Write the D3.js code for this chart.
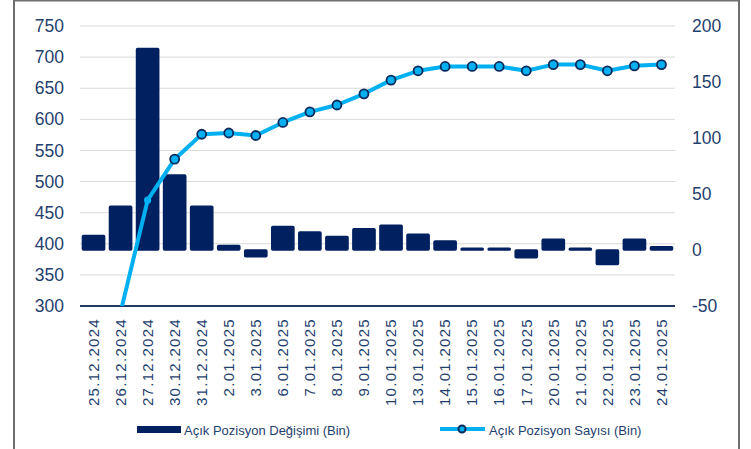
<!DOCTYPE html>
<html>
<head>
<meta charset="utf-8">
<script src="https://cdn.jsdelivr.net/npm/d3@7"></script>
<style>
  html, body { margin: 0; padding: 0; background: #fff; }
  svg { display: block; font-family: "Liberation Sans", Arial, sans-serif; }
</style>
</head>
<body>
<svg id="chart" width="751" height="449"></svg>
<script>
// Dates on the x axis
const dates = [
  '25.12.2024', '26.12.2024', '27.12.2024', '30.12.2024', '31.12.2024',
  '2.01.2025', '3.01.2025', '6.01.2025', '7.01.2025', '8.01.2025',
  '9.01.2025', '10.01.2025', '13.01.2025', '14.01.2025', '15.01.2025',
  '16.01.2025', '17.01.2025', '20.01.2025', '21.01.2025', '22.01.2025',
  '23.01.2025', '24.01.2025'
];

// Daily change (right axis, thousands)
const changeValues = [13, 39, 180, 67, 39, 4, -6, 21, 16, 12, 19, 22, 14, 8, 1.5, 1.5, -7, 9.5, 1.5, -13, 9.5, 3];

// Open position count (left axis, thousands)
const countValues = [251, 290, 470, 536, 576, 578, 574, 595, 612, 623, 641, 663, 678, 685, 685, 685, 678, 688, 688, 678, 686, 688];

const leftTicks = [300, 350, 400, 450, 500, 550, 600, 650, 700, 750];
const rightTicks = [-50, 0, 50, 100, 150, 200];

const seriesNames = ['Açık Pozisyon Değişimi (Bin)', 'Açık Pozisyon Sayısı (Bin)'];

// the first visible marker is drawn smaller in the original
const smallMarkerDate = '27.12.2024';

const navy = '#002060';
const cyan = '#00b0f0';
const textColor = '#1f3f6e';

const plot = { left: 80, right: 675, top: 26, bottom: 306 };

const svg = d3.select('#chart');

// outer frame
svg.append('rect')
  .attr('x', 14).attr('y', 0.5)
  .attr('width', 725).attr('height', 460)
  .attr('fill', '#fff')
  .attr('stroke', '#6f6f6f')
  .attr('stroke-width', 2);

const x = d3.scaleBand()
  .domain(dates)
  .range([plot.left, plot.right])
  .paddingInner(0.18)
  .paddingOuter(0.09);

const yLeft = d3.scaleLinear().domain([300, 750]).range([plot.bottom, plot.top]);
const yRight = d3.scaleLinear().domain([-50, 200]).range([plot.bottom, plot.top]);

const cx = d => x(d) + x.bandwidth() / 2;

// gridlines
svg.append('g')
  .selectAll('line')
  .data(leftTicks.slice(1))
  .enter()
  .append('line')
  .attr('x1', plot.left).attr('x2', plot.right)
  .attr('y1', d => yLeft(d)).attr('y2', d => yLeft(d))
  .attr('stroke', '#d9d9d9')
  .attr('stroke-width', 1);

// left axis
const leftAxis = svg.append('g')
  .attr('transform', 'translate(' + (plot.left - 16) + ',0)')
  .call(d3.axisLeft(yLeft).tickValues(leftTicks).tickSize(0).tickPadding(0).tickFormat(d => String(d)));
leftAxis.select('.domain').remove();
leftAxis.selectAll('text')
  .attr('fill', textColor)
  .style('font-size', '17.5px');

// right axis (plain hyphen for negatives, like the original)
const rightAxis = svg.append('g')
  .attr('transform', 'translate(' + (plot.right + 17) + ',0)')
  .call(d3.axisRight(yRight).tickValues(rightTicks).tickSize(0).tickPadding(0).tickFormat(d => String(d)));
rightAxis.select('.domain').remove();
rightAxis.selectAll('text')
  .attr('fill', textColor)
  .style('font-size', '17.5px');

// bars
svg.append('g')
  .selectAll('rect')
  .data(changeValues)
  .enter()
  .append('rect')
  .attr('x', (d, i) => x(dates[i]))
  .attr('width', x.bandwidth())
  .attr('y', d => yRight(Math.max(0, d)))
  .attr('height', d => Math.abs(yRight(d) - yRight(0)))
  .attr('fill', navy)
  .attr('stroke', navy)
  .attr('stroke-width', 1.5)
  .attr('rx', 1);

// bottom axis line
svg.append('line')
  .attr('x1', plot.left).attr('x2', plot.right)
  .attr('y1', plot.bottom).attr('y2', plot.bottom)
  .attr('stroke', '#1f3864')
  .attr('stroke-width', 2);

// x labels
svg.append('g')
  .selectAll('text')
  .data(dates)
  .enter()
  .append('text')
  .attr('transform', d => 'translate(' + cx(d) + ',318) rotate(-90)')
  .attr('text-anchor', 'end')
  .attr('dy', '0.35em')
  .attr('fill', textColor)
  .style('font-size', '15px')
  .style('letter-spacing', '1.3px')
  .text(d => d);

// line, clipped to the plot area
svg.append('clipPath')
  .attr('id', 'plot-clip')
  .append('rect')
  .attr('x', plot.left).attr('y', plot.top - 10)
  .attr('width', plot.right - plot.left).attr('height', plot.bottom - plot.top + 10);

const lineGroup = svg.append('g').attr('clip-path', 'url(#plot-clip)');

const points = dates.map((d, i) => ({ date: d, value: countValues[i] }));

const line = d3.line()
  .x(p => cx(p.date))
  .y(p => yLeft(p.value));

lineGroup.append('path')
  .datum(points)
  .attr('d', line)
  .attr('fill', 'none')
  .attr('stroke', cyan)
  .attr('stroke-width', 4)
  .attr('stroke-linejoin', 'round');

lineGroup.selectAll('circle')
  .data(points.filter(p => p.value >= 300))
  .enter()
  .append('circle')
  .attr('cx', p => cx(p.date))
  .attr('cy', p => yLeft(p.value))
  .attr('r', p => p.date === smallMarkerDate ? 3.6 : 4.5)
  .attr('fill', cyan)
  .attr('stroke', p => p.date === smallMarkerDate ? 'none' : '#0b2a5c')
  .attr('stroke-width', 1.8);

// legend
const legend = svg.append('g');

legend.append('rect')
  .attr('x', 137).attr('y', 426)
  .attr('width', 44).attr('height', 7)
  .attr('fill', navy);

legend.append('text')
  .attr('x', 184).attr('y', 430)
  .attr('dy', '0.35em')
  .attr('fill', textColor)
  .style('font-size', '13px')
  .text(seriesNames[0]);

legend.append('line')
  .attr('x1', 440).attr('x2', 485)
  .attr('y1', 429).attr('y2', 429)
  .attr('stroke', cyan)
  .attr('stroke-width', 4);

legend.append('circle')
  .attr('cx', 462).attr('cy', 429)
  .attr('r', 3.5)
  .attr('fill', cyan)
  .attr('stroke', '#0b2a5c')
  .attr('stroke-width', 2);

legend.append('text')
  .attr('x', 489).attr('y', 430)
  .attr('dy', '0.35em')
  .attr('fill', textColor)
  .style('font-size', '13px')
  .text(seriesNames[1]);
</script>
</body>
</html>
